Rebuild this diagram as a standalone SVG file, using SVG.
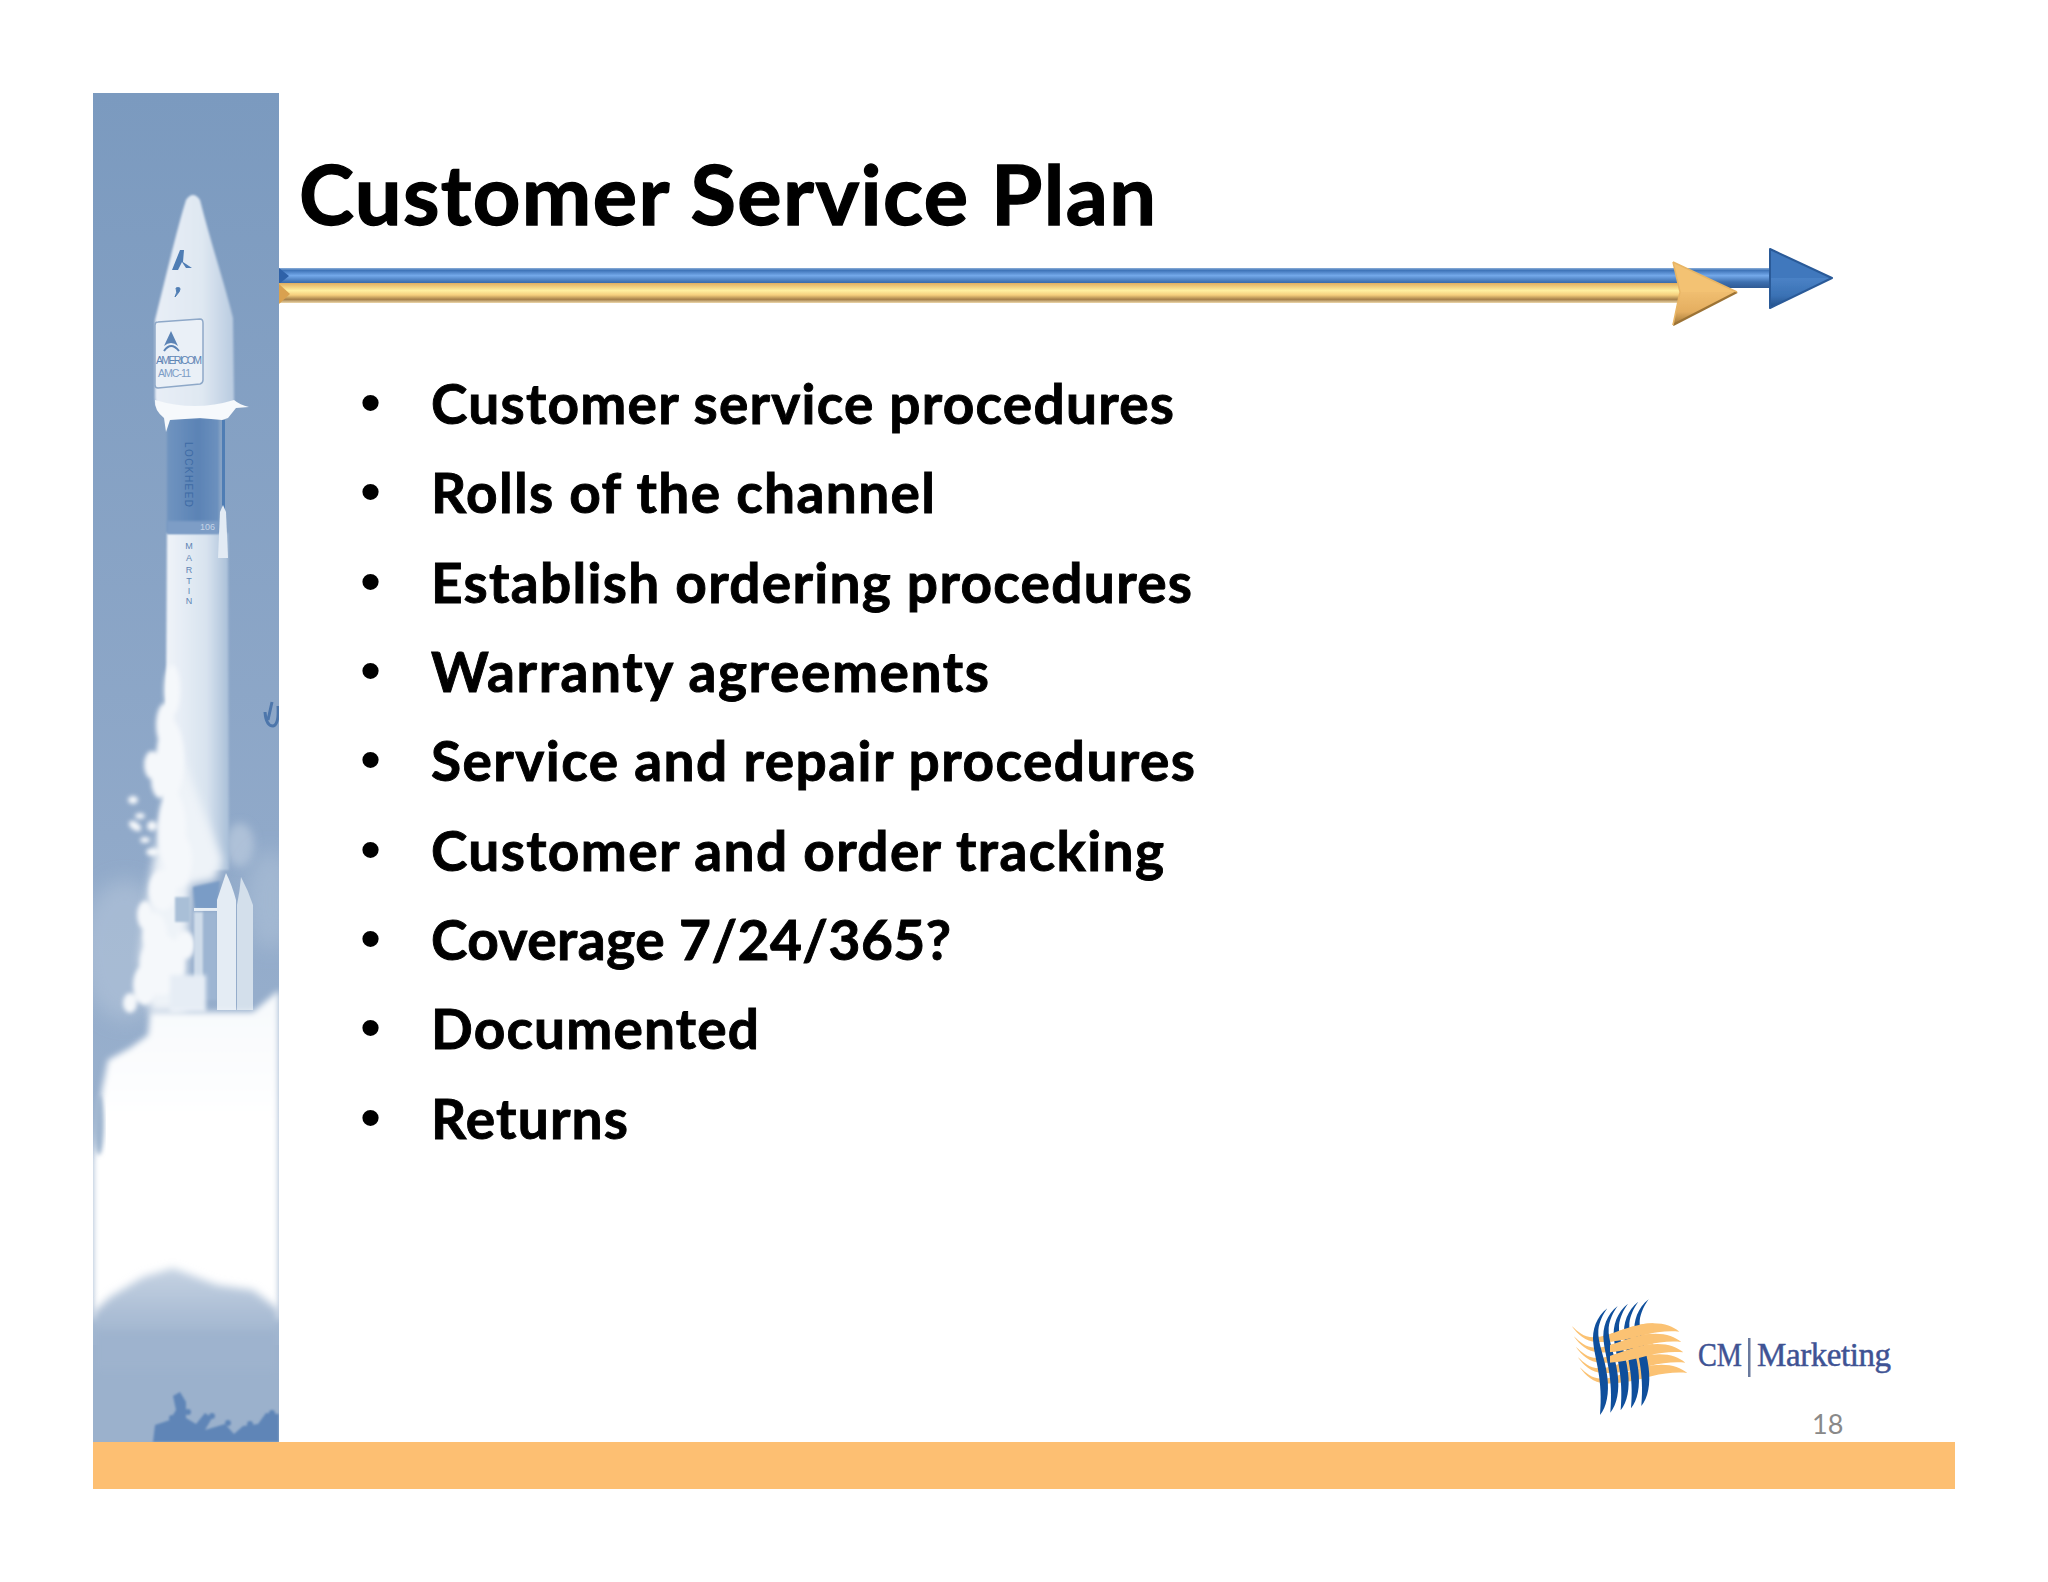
<svg xmlns="http://www.w3.org/2000/svg" width="2048" height="1582" viewBox="0 0 2048 1582">
<style>
.t{font-family:"Lato","Carlito","Liberation Sans",sans-serif;font-weight:700;fill:#000;stroke:#000;stroke-width:.9}
.b{font-size:55px}
.bu{font-family:"Liberation Sans",sans-serif;font-size:60px;fill:#000}
.rk{font-family:"Liberation Sans",sans-serif;fill:#5f85b5}
.lg{font-family:"Liberation Serif",serif;font-size:33px;fill:#3f5394;stroke:#3f5394;stroke-width:.5}
</style>
<defs>
<linearGradient id="sky" x1="0" y1="0" x2="0" y2="1"><stop offset="0" stop-color="#7b9abf"/><stop offset="0.55" stop-color="#90a9c9"/><stop offset="1" stop-color="#a3b8d1"/></linearGradient>
<linearGradient id="hill" x1="0" y1="0" x2="0" y2="1"><stop offset="0" stop-color="#c6d3e3"/><stop offset="0.3" stop-color="#a8bbd3"/><stop offset="1" stop-color="#93abc9"/></linearGradient>
<linearGradient id="fair" x1="0" y1="0" x2="1" y2="0"><stop offset="0" stop-color="#e8eef6"/><stop offset="0.6" stop-color="#dfe8f2"/><stop offset="1" stop-color="#b9cbe0"/></linearGradient>
<linearGradient id="body" x1="0" y1="0" x2="1" y2="0"><stop offset="0" stop-color="#f0f4f9"/><stop offset="0.65" stop-color="#d8e3ef"/><stop offset="1" stop-color="#a9bfd8"/></linearGradient>
<linearGradient id="dark" x1="0" y1="0" x2="1" y2="0"><stop offset="0" stop-color="#7094c0"/><stop offset="0.6" stop-color="#5b83b5"/><stop offset="1" stop-color="#6d91be"/></linearGradient>
<linearGradient id="blueBar" x1="0" y1="0" x2="0" y2="1"><stop offset="0" stop-color="#8eb0d8"/><stop offset="0.12" stop-color="#3f74b8"/><stop offset="0.38" stop-color="#74a9ea"/><stop offset="0.7" stop-color="#3e70b0"/><stop offset="1" stop-color="#2f5a94"/></linearGradient>
<linearGradient id="goldBar" x1="0" y1="0" x2="0" y2="1"><stop offset="0" stop-color="#e0ad5e"/><stop offset="0.38" stop-color="#fff0a0"/><stop offset="0.6" stop-color="#f5cf7d"/><stop offset="0.82" stop-color="#a6814a"/><stop offset="1" stop-color="#ecd7ab"/></linearGradient>
<linearGradient id="goldLow" x1="0" y1="0" x2="0" y2="1"><stop offset="0" stop-color="#f0be70"/><stop offset="0.6" stop-color="#e4ae60"/><stop offset="1" stop-color="#a07636"/></linearGradient>
<linearGradient id="blueLow" x1="0" y1="0" x2="0" y2="1"><stop offset="0" stop-color="#4a82c6"/><stop offset="0.6" stop-color="#3a71b4"/><stop offset="1" stop-color="#234f88"/></linearGradient>
<linearGradient id="fade" x1="0" y1="0" x2="0" y2="1"><stop offset="0" stop-color="#f6f9fc"/><stop offset="0.4" stop-color="#fff"/><stop offset="1" stop-color="#fff"/></linearGradient>
<filter id="b05" x="-20%" y="-20%" width="140%" height="140%"><feGaussianBlur stdDeviation=".5"/></filter>
<filter id="b1" x="-20%" y="-20%" width="140%" height="140%"><feGaussianBlur stdDeviation="1"/></filter>
<filter id="b2" x="-20%" y="-20%" width="140%" height="140%"><feGaussianBlur stdDeviation="2"/></filter>
<filter id="b3" x="-20%" y="-20%" width="140%" height="140%"><feGaussianBlur stdDeviation="3"/></filter>
<filter id="b4" x="-30%" y="-30%" width="160%" height="160%"><feGaussianBlur stdDeviation="4"/></filter>
<filter id="b10" x="-40%" y="-40%" width="180%" height="180%"><feGaussianBlur stdDeviation="10"/></filter>
<clipPath id="panel"><rect x="93" y="93" width="186" height="1349"/></clipPath>
<clipPath id="weave"><rect x="180" y="110" width="130" height="140"/></clipPath>
<path id="strand" d="M172 85C140 110 125 150 130 190C135 240 160 300 150 405C170 380 178 340 172 290C165 230 142 190 145 150C148 125 158 105 172 85Z"/>
<path id="wave" d="M65 138C85 155 100 172 130 172C180 172 240 130 310 130C345 130 370 140 388 155C355 152 320 155 280 165C235 177 190 188 140 186C105 184 85 165 65 138Z"/>
</defs>
<rect width="2048" height="1582" fill="#fff"/>

<g id="side-panel" clip-path="url(#panel)">
<rect x="93" y="93" width="186" height="1349" fill="url(#sky)"/>
<ellipse cx="125" cy="950" rx="45" ry="70" fill="#b4c5da" opacity=".6" filter="url(#b10)"/>
<ellipse cx="240" cy="845" rx="14" ry="22" fill="#aec1d8" filter="url(#b4)"/>
<ellipse cx="270" cy="900" rx="25" ry="50" fill="#a9bdd5" opacity=".7" filter="url(#b10)"/>
<path d="M265 712Q266 726 273 726Q279 725 278 706M272 702L268 720" fill="none" stroke="#4d76ab" stroke-width="3" filter="url(#b05)"/>
<!-- rocket body -->
<path d="M167 533H228L229 870H165Z" fill="url(#body)" filter="url(#b1)"/>
<rect x="167" y="418" width="52" height="115" fill="url(#dark)" filter="url(#b1)"/>
<rect x="167" y="521" width="52" height="13" fill="#7d9dc6" filter="url(#b1)"/>
<rect x="222" y="420" width="3" height="95" fill="#4f7db4"/>
<path d="M220 512L223 505L226 512L228 558L218 558Z" fill="#e3ebf4" filter="url(#b05)"/>
<text class="rk" font-size="10" letter-spacing="1" transform="translate(185 442) rotate(90)" style="fill:#3e6ba5" textLength="66">LOCKHEED</text>
<text class="rk" x="200" y="530" font-size="9" style="fill:#c5d4e6">106</text>
<g class="rk" font-size="9" text-anchor="middle"><text x="189" y="549">M</text><text x="189" y="561">A</text><text x="189" y="573">R</text><text x="189" y="584">T</text><text x="189" y="594">I</text><text x="189" y="604">N</text></g>
<!-- fairing -->
<path d="M155 320C165 280 178 225 186 200Q193 190 200 200C210 240 225 285 233 318L234 400Q233 412 216 417H172Q156 412 155 398Z" fill="url(#fair)" filter="url(#b1)"/>
<path d="M155 400Q195 412 234 400Q240 405 249 407L236 408L228 418L222 420L200 418L170 420L166 432L164 418Q154 410 155 400Z" fill="#f6f9fc" filter="url(#b05)"/>
<path d="M158 322L200 319Q203 319 203 323V380Q203 383 200 384L158 388Q155 388 155 385V325Q155 322 158 322Z" fill="#eaf0f7" stroke="#8ea8c8" stroke-width="1.500"/>
<path d="M171 331L164 346Q171 340 178 346Z" fill="#5b83b5"/>
<path d="M164 351Q171 341 179 351" fill="none" stroke="#5b83b5" stroke-width="2"/>
<text class="rk" x="156" y="364" font-size="10.500" textLength="46">AMERICOM</text>
<text class="rk" x="158" y="377" font-size="10.500" textLength="33" style="fill:#7d9dc6">AMC-11</text>
<path d="M172 270L180 250H184L183 262L192 268L186 268L182 262L178 270Z" fill="#4f7db4" filter="url(#b05)"/>
<path d="M176 288Q182 286 179 292L175 297Q178 292 176 288Z" fill="#4f7db4" stroke="#4f7db4"/>
<!-- smoke -->
<path d="M174 660Q172 690 170 730L195 790L222 860L215 880L190 885L185 1012H150L140 960L150 880L165 800Z" fill="#eef3f8" filter="url(#b4)"/>
<g fill="#f5f8fb" filter="url(#b2)">
<ellipse cx="172" cy="690" rx="8" ry="25"/><ellipse cx="165" cy="725" rx="9" ry="22"/><ellipse cx="152" cy="765" rx="8" ry="14"/><ellipse cx="160" cy="780" rx="9" ry="18"/>
<ellipse cx="170" cy="760" rx="14" ry="40"/><ellipse cx="172" cy="830" rx="14" ry="40"/><ellipse cx="178" cy="860" rx="14" ry="28"/>
<ellipse cx="163" cy="890" rx="14" ry="20"/><ellipse cx="145" cy="915" rx="8" ry="14"/><ellipse cx="155" cy="935" rx="12" ry="22"/><ellipse cx="162" cy="965" rx="22" ry="30"/><ellipse cx="145" cy="985" rx="12" ry="20"/><ellipse cx="130" cy="1003" rx="7" ry="10"/>
<ellipse cx="185" cy="945" rx="10" ry="14"/>
<ellipse cx="133" cy="800" rx="5" ry="4"/><ellipse cx="140" cy="816" rx="5" ry="3"/><ellipse cx="135" cy="826" rx="7" ry="4" transform="rotate(35 135 826)"/><ellipse cx="152" cy="826" rx="5" ry="5"/><ellipse cx="145" cy="840" rx="5" ry="3"/><ellipse cx="153" cy="852" rx="7" ry="4"/>
</g>
<!-- engine section -->
<path d="M193 887L220 881L217 910L195 908Z" fill="#7a9cc6" filter="url(#b1)"/>
<rect x="194" y="908" width="24" height="3" fill="#e8eff6"/>
<path d="M203 912H217V1000H203Z" fill="#9db5d2" filter="url(#b1)"/>
<path d="M194 912H203V1000H194Z" fill="#cfdcea" filter="url(#b1)"/>
<path d="M175 897H190V922H175Z" fill="#a9bfd7" filter="url(#b1)"/>
<path d="M170 975H206V1012H170Z" fill="#e6edf5" filter="url(#b2)"/>
<path d="M217 1010V900Q222 885 226 873Q232 885 236 900V1010Z" fill="#e4ecf4" filter="url(#b05)"/>
<path d="M237 1010V905Q240 890 241 877Q248 890 253 905V1010Z" fill="#d3dfeb" filter="url(#b05)"/>
<!-- cloud and ground -->
<path d="M150 1012H253L279 990V1320H93V1160L102 1090L108 1060L130 1048L148 1035Z" fill="url(#fade)" filter="url(#b3)"/>
<ellipse cx="99" cy="1125" rx="5" ry="30" fill="#9fb5cf" filter="url(#b2)"/>
<path d="M93 1313L110 1297L143 1277L173 1268L217 1285L253 1290L279 1310V1442H93Z" fill="url(#hill)" filter="url(#b4)"/>
<rect x="93" y="1345" width="186" height="97" fill="#9bb1cc"/>
<rect x="93" y="1330" width="186" height="40" fill="#9eb3ce" filter="url(#b4)"/>
<g fill="#5f85b7" filter="url(#b1)">
<path d="M153 1442L155 1425L170 1420L176 1410L173 1396L180 1392L186 1402L186 1418L196 1424L205 1413L212 1418L205 1430L225 1424L234 1434L243 1426L258 1424L266 1413L279 1414V1442Z"/>
<circle cx="160" cy="1427" r="3"/><circle cx="172" cy="1418" r="3"/><circle cx="188" cy="1412" r="3"/><circle cx="212" cy="1416" r="3"/><circle cx="228" cy="1423" r="3"/><circle cx="250" cy="1424" r="3"/><circle cx="272" cy="1413" r="3"/>
</g>
</g>

<g id="title"><text class="t" x="299" y="225" font-size="83" textLength="857" style="stroke-width:1.300">Customer Service Plan</text></g>

<g id="double-arrow">
<rect x="279" y="268" width="1510" height="20" fill="url(#blueBar)"/>
<path d="M279 268L289 276L279 284Z" fill="#2f62a8"/>
<g filter="url(#b05)">
<path d="M1770 249L1832 278H1770Z" fill="#3f78bd"/>
<path d="M1770 278H1832L1770 308Z" fill="url(#blueLow)"/>
<path d="M1770 249L1832 278L1770 308Z" fill="none" stroke="#2a5a98" stroke-width="2" stroke-linejoin="round"/>
</g>
<rect x="279" y="283" width="1400" height="20" fill="url(#goldBar)"/>
<path d="M279 284L290 294L279 304Z" fill="#d9a14f"/>
<g filter="url(#b05)">
<path d="M1673 262L1737 292H1680Z" fill="#f3c273"/>
<path d="M1680 292H1737L1673 325Z" fill="url(#goldLow)"/>
<path d="M1737 292L1673 325" fill="none" stroke="#9c7335" stroke-width="2.500"/>
<path d="M1673 262L1737 292M1673 262L1680 292L1673 325" fill="none" stroke="#e8b565" stroke-width="1.500"/>
</g>
</g>

<g id="bullets">
<text class="bu" x="360" y="423">•</text><text class="t b" x="431" y="424" textLength="743">Customer service procedures</text>
<text class="bu" x="360" y="512">•</text><text class="t b" x="431" y="513" textLength="504">Rolls of the channel</text>
<text class="bu" x="360" y="602">•</text><text class="t b" x="431" y="603" textLength="761">Establish ordering procedures</text>
<text class="bu" x="360" y="691">•</text><text class="t b" x="431" y="692" textLength="558">Warranty agreements</text>
<text class="bu" x="360" y="780">•</text><text class="t b" x="431" y="781" textLength="764">Service and repair procedures</text>
<text class="bu" x="360" y="870">•</text><text class="t b" x="431" y="871" textLength="733">Customer and order tracking</text>
<text class="bu" x="360" y="959">•</text><text class="t b" x="431" y="960" textLength="520">Coverage 7/24/365?</text>
<text class="bu" x="360" y="1048">•</text><text class="t b" x="431" y="1049" textLength="328">Documented</text>
<text class="bu" x="360" y="1138">•</text><text class="t b" x="431" y="1139" textLength="197">Returns</text>
</g>

<g id="logo">
<g transform="translate(1550 1280) scale(.3333)">
<g fill="#fbc273">
<use href="#wave"/><use href="#wave" x="6" y="31"/><use href="#wave" x="12" y="62"/><use href="#wave" x="18" y="93"/><use href="#wave" x="24" y="124"/>
</g>
<g fill="#0f4f9c">
<use href="#strand"/><use href="#strand" x="31" y="-7"/><use href="#strand" x="62" y="-14"/><use href="#strand" x="93" y="-20"/><use href="#strand" x="124" y="-27"/>
</g>
<g fill="#fbc273" clip-path="url(#weave)">
<use href="#wave"/><use href="#wave" x="6" y="31"/><use href="#wave" x="12" y="62"/>
</g>
</g>
<text class="lg" x="1698" y="1366" textLength="44" lengthAdjust="spacingAndGlyphs">CM</text>
<rect x="1748" y="1338" width="2.500" height="39" fill="#6a7a9e"/>
<text class="lg" x="1757" y="1366" textLength="134">Marketing</text>
</g>

<g id="footer">
<rect x="93" y="1442" width="1862" height="47" fill="#fdbf72"/>
<text x="1812" y="1434" font-family="Lato,Carlito,'Liberation Sans',sans-serif" font-size="27" fill="#898989">18</text>
</g>
</svg>
